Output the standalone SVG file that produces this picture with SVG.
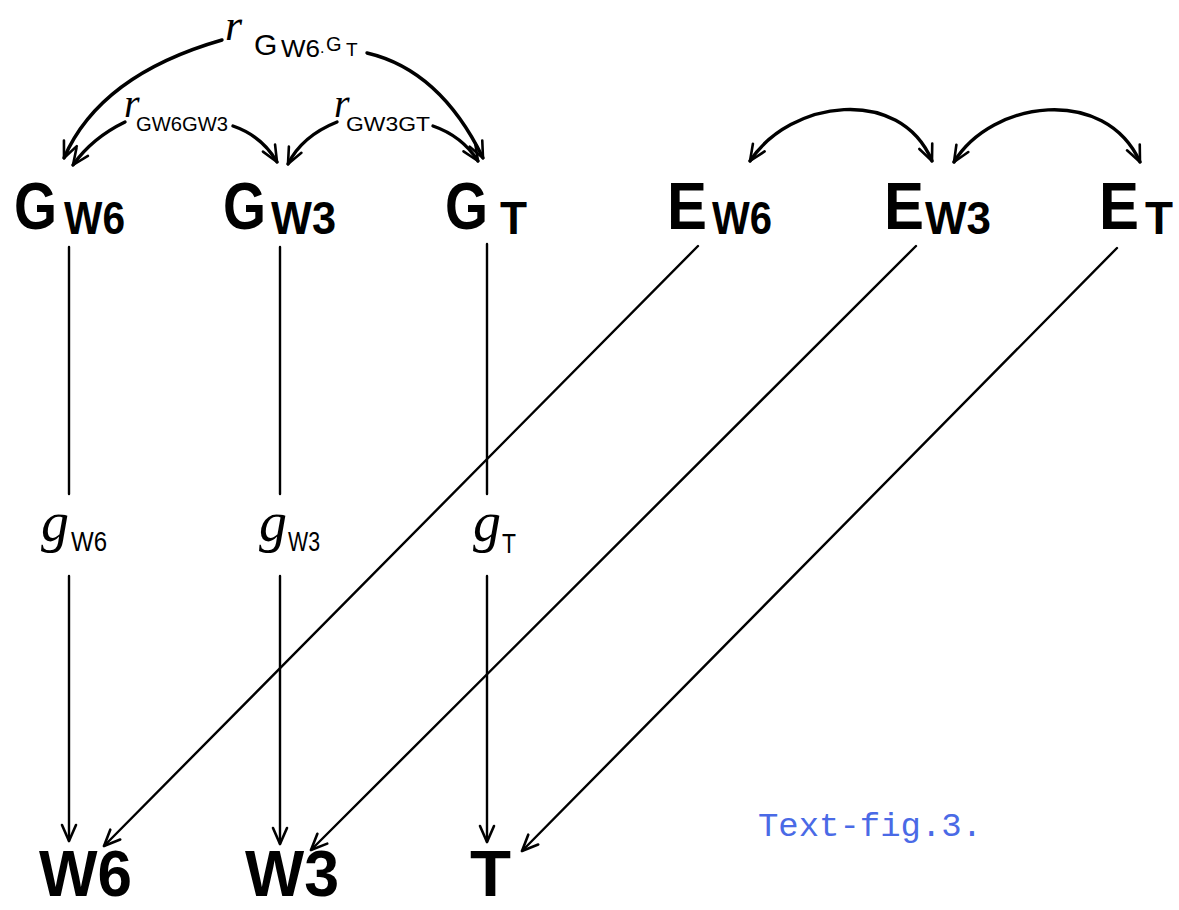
<svg xmlns="http://www.w3.org/2000/svg" width="1179" height="910" viewBox="0 0 1179 910">
<style>
.big{font-family:"Liberation Sans",Arial,sans-serif;font-weight:bold;fill:#000}
.r{font-family:"Liberation Serif","Times New Roman",serif;font-style:italic;fill:#000}
.sub{font-family:"Liberation Sans",Arial,sans-serif;fill:#000}
.c{fill:none;stroke:#000;stroke-linecap:round}
.curve{stroke-width:3.4}
.line{stroke-width:2.4}
.cap{font-family:"Liberation Mono","Courier New",monospace;fill:#4a6ae6}
</style>
<defs>
<marker id="ah" markerUnits="userSpaceOnUse" markerWidth="40" markerHeight="40" viewBox="-20 -20 40 40" refX="0" refY="0" orient="auto-start-reverse" overflow="visible">
<path d="M-16,-7 L0,0 L-16,7" fill="none" stroke="#000" stroke-width="2.6" stroke-linecap="round" stroke-linejoin="round"/>
</marker>
</defs>
<rect width="1179" height="910" fill="#fff"/>

<g id="connectors">
<!-- genetic correlations -->
<path class="c curve" d="M222,40 Q100,75 64,158" marker-end="url(#ah)"/>
<path class="c curve" d="M367,53 Q440,70 483,158" marker-end="url(#ah)"/>
<path class="c curve" d="M125,122 Q92,138 73,165" marker-end="url(#ah)"/>
<path class="c curve" d="M233,126 Q262,136 277,162" marker-end="url(#ah)"/>
<path class="c curve" d="M337,122 Q302,136 288,164" marker-end="url(#ah)"/>
<path class="c curve" d="M433,126 Q462,136 478,161" marker-end="url(#ah)"/>
<!-- environmental correlations -->
<path class="c curve" d="M750,161 C790,100 900,85 932,161" marker-start="url(#ah)" marker-end="url(#ah)"/>
<path class="c curve" d="M954,162 C992,100 1105,85 1140,162" marker-start="url(#ah)" marker-end="url(#ah)"/>
<!-- vertical paths -->
<path class="c line" d="M69,247 L69,494"/>
<path class="c line" d="M69,576 L69,841" marker-end="url(#ah)"/>
<path class="c line" d="M280,247 L280,494"/>
<path class="c line" d="M280,576 L280,844" marker-end="url(#ah)"/>
<path class="c line" d="M487,244 L487,494"/>
<path class="c line" d="M487,576 L487,842" marker-end="url(#ah)"/>
<!-- diagonals -->
<path class="c line" d="M698,246 L104,846" marker-end="url(#ah)"/>
<path class="c line" d="M916,246 L311,850" marker-end="url(#ah)"/>
<path class="c line" d="M1117,248 L522,851" marker-end="url(#ah)"/>
</g>

<g id="r_GW6GT">
<text class="r" x="225" y="40" font-size="44">r</text>
<text class="sub" x="254" y="55" font-size="30">G</text>
<text class="sub" x="281" y="57" font-size="24" textLength="39" lengthAdjust="spacingAndGlyphs">W6</text>
<text class="sub" x="320" y="53" font-size="16">.</text>
<text class="sub" x="326" y="51" font-size="20">G</text>
<text class="sub" x="346" y="56" font-size="19">T</text>
</g>
<g id="r_GW6GW3">
<text class="r" x="124" y="117" font-size="40">r</text>
<text class="sub" x="136" y="131" font-size="21" textLength="92" lengthAdjust="spacingAndGlyphs">GW6GW3</text>
</g>
<g id="r_GW3GT">
<text class="r" x="334" y="117" font-size="40">r</text>
<text class="sub" x="346" y="131" font-size="21" textLength="84" lengthAdjust="spacingAndGlyphs">GW3GT</text>
</g>

<g id="G_W6">
<text class="big" x="14" y="229" font-size="66" textLength="43" lengthAdjust="spacingAndGlyphs">G</text>
<text class="big" x="64" y="234" font-size="46" textLength="61" lengthAdjust="spacingAndGlyphs">W6</text>
</g>
<g id="G_W3">
<text class="big" x="223" y="229" font-size="66" textLength="43" lengthAdjust="spacingAndGlyphs">G</text>
<text class="big" x="271" y="234" font-size="46" textLength="65" lengthAdjust="spacingAndGlyphs">W3</text>
</g>
<g id="G_T">
<text class="big" x="445" y="229" font-size="66" textLength="43" lengthAdjust="spacingAndGlyphs">G</text>
<text class="big" x="500" y="234" font-size="46" textLength="27" lengthAdjust="spacingAndGlyphs">T</text>
</g>
<g id="E_W6">
<text class="big" x="667" y="229" font-size="66" textLength="40" lengthAdjust="spacingAndGlyphs">E</text>
<text class="big" x="712" y="234" font-size="46" textLength="60" lengthAdjust="spacingAndGlyphs">W6</text>
</g>
<g id="E_W3">
<text class="big" x="884" y="229" font-size="66" textLength="40" lengthAdjust="spacingAndGlyphs">E</text>
<text class="big" x="925" y="234" font-size="46" textLength="66" lengthAdjust="spacingAndGlyphs">W3</text>
</g>
<g id="E_T">
<text class="big" x="1099" y="229" font-size="66" textLength="40" lengthAdjust="spacingAndGlyphs">E</text>
<text class="big" x="1145" y="234" font-size="46" textLength="28" lengthAdjust="spacingAndGlyphs">T</text>
</g>

<g id="g_W6">
<text class="r" x="41" y="541" font-size="56">g</text>
<text class="sub" x="71" y="551" font-size="28" textLength="36" lengthAdjust="spacingAndGlyphs">W6</text>
</g>
<g id="g_W3">
<text class="r" x="259" y="541" font-size="56">g</text>
<text class="sub" x="288" y="551" font-size="28" textLength="32" lengthAdjust="spacingAndGlyphs">W3</text>
</g>
<g id="g_T">
<text class="r" x="473" y="541" font-size="56">g</text>
<text class="sub" x="502" y="553" font-size="28" textLength="14" lengthAdjust="spacingAndGlyphs">T</text>
</g>

<g id="W6">
<text class="big" x="39" y="896" font-size="64" textLength="93" lengthAdjust="spacingAndGlyphs">W6</text>
</g>
<g id="W3">
<text class="big" x="245" y="896" font-size="64" textLength="94" lengthAdjust="spacingAndGlyphs">W3</text>
</g>
<g id="T">
<text class="big" x="470" y="896" font-size="64" textLength="41" lengthAdjust="spacingAndGlyphs">T</text>
</g>

<text class="cap" x="758" y="836" font-size="34" textLength="224" lengthAdjust="spacingAndGlyphs">Text-fig.3.</text>
</svg>
